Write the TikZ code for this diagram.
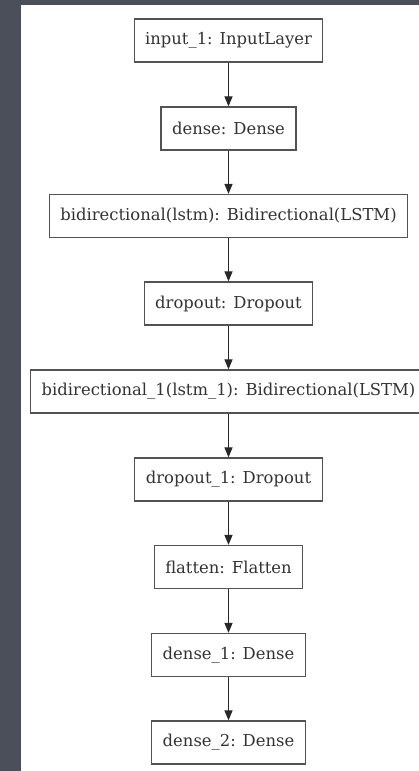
\documentclass[tikz,border=0pt]{standalone}
\usepackage{fontspec}
\setmainfont{DejaVu Serif}
\usepackage{xcolor}
\usetikzlibrary{arrows.meta}

\definecolor{slate}{RGB}{74,79,90}
\definecolor{edge}{RGB}{40,40,40}

\tikzset{
    layer/.style={draw=edge!80, line width=1.2pt, fill=white, minimum height=43pt,
        inner xsep=11pt, font=\fontsize{16.4}{18}\selectfont, text=black!80},
    flow/.style={edge, line width=1.2pt, -{Triangle[length=10pt, width=8pt]}}
}

\begin{document}
\begin{tikzpicture}[x=1pt, y=1pt]
        \useasboundingbox (0,0) rectangle (419,771);
        \fill[slate] (0,0) rectangle (419,771);
        \fill[white] (21,0) rectangle (419,766);
        \clip (0,0) rectangle (419,771);
        
        % layers
        \node[layer] (input)   at (228.5,730.5) {input\_1: InputLayer};
        \node[layer] (dense)   at (228.5,642.5) {dense: Dense};
        \node[layer] (bilstm)  at (228.5,555)   {bidirectional(lstm): Bidirectional(LSTM)};
        \node[layer] (drop)    at (228.5,467.5) {dropout: Dropout};
        \node[layer] (bilstmb) at (228.5,379.5) {bidirectional\_1(lstm\_1): Bidirectional(LSTM)};
        \node[layer] (dropb)   at (228.5,291.5) {dropout\_1: Dropout};
        \node[layer] (flat)    at (228.5,204)   {flatten: Flatten};
        \node[layer] (denseb)  at (228.5,116)   {dense\_1: Dense};
        \node[layer] (densec)  at (228.5,28.5)  {dense\_2: Dense};
        
        \foreach \a/\b in {input/dense, dense/bilstm, bilstm/drop, drop/bilstmb,
            bilstmb/dropb, dropb/flat, flat/denseb, denseb/densec} {
            \draw[flow] (\a) -- (\b);
        }
        
    \end{tikzpicture}
\end{document}
